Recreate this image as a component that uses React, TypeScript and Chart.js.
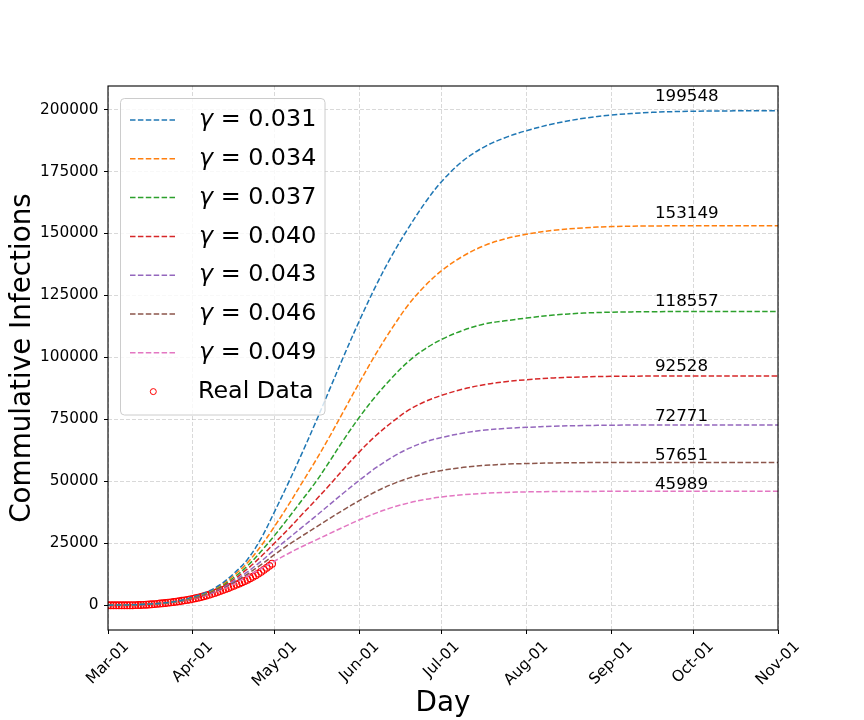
import { useEffect, useRef } from "react"
import { Chart, registerables, type Plugin } from "chart.js"

Chart.register(...registerables)

const FONT = "'DejaVu Sans', sans-serif"

const modelDays = [0, 7, 14, 21, 26, 31, 36, 41, 46, 51, 56, 61, 66, 71, 76, 81, 86, 92, 98, 104, 110, 116, 122, 130, 138, 146, 153, 163, 174, 184, 199, 214, 229, 245]

const gamma031 = [50, 150, 420, 1000, 1800, 3300, 5300, 8300, 12800, 18500, 27000, 38000, 49500, 61500, 74000, 87000, 100000, 115000, 129000, 141500, 152500, 162500, 171000, 179500, 185200, 189000, 191500, 194300, 196500, 197800, 198900, 199330, 199490, 199548]
const gamma034 = [50, 150, 410, 980, 1750, 3150, 5100, 7900, 12000, 17200, 24000, 32000, 40500, 49500, 58500, 68000, 78000, 90000, 101500, 112000, 121500, 129000, 135000, 141000, 145300, 148100, 149700, 151300, 152300, 152800, 153050, 153120, 153140, 153149]
const gamma037 = [50, 150, 400, 960, 1700, 3050, 4900, 7500, 11200, 15900, 21800, 28300, 35300, 42500, 49800, 58000, 66500, 76000, 84500, 92000, 98500, 103500, 107300, 111000, 113600, 114900, 115900, 117100, 117900, 118250, 118460, 118530, 118550, 118557]
const gamma040 = [50, 150, 400, 940, 1650, 2950, 4700, 7150, 10500, 14700, 19700, 25200, 30800, 36700, 42500, 48500, 54800, 62000, 68500, 74000, 78800, 82200, 84700, 87300, 89100, 90300, 91000, 91750, 92150, 92360, 92480, 92515, 92525, 92528]
const gamma043 = [50, 150, 390, 920, 1600, 2850, 4500, 6800, 9800, 13500, 17800, 22500, 27000, 31500, 36000, 40600, 45200, 50500, 55500, 59800, 63300, 65900, 67700, 69500, 70700, 71400, 71800, 72250, 72520, 72660, 72735, 72760, 72768, 72771]
const gamma046 = [50, 150, 380, 900, 1570, 2750, 4300, 6450, 9200, 12600, 16400, 20500, 24400, 28000, 31500, 35000, 38400, 42300, 45900, 48900, 51300, 53100, 54400, 55650, 56450, 56950, 57200, 57420, 57550, 57610, 57638, 57647, 57650, 57651]
const gamma049 = [50, 150, 370, 880, 1530, 2650, 4100, 6150, 8700, 11700, 14800, 17900, 20900, 23700, 26300, 28900, 31500, 34500, 37200, 39500, 41300, 42700, 43700, 44600, 45200, 45550, 45750, 45880, 45940, 45966, 45980, 45986, 45988, 45989]

const seriesValues = [gamma031, gamma034, gamma037, gamma040, gamma043, gamma046, gamma049]
const gammaLabels = ["0.031", "0.034", "0.037", "0.040", "0.043", "0.046", "0.049"]
const seriesColors = ["#1f77b4", "#ff7f0e", "#2ca02c", "#d62728", "#9467bd", "#8c564b", "#e377c2"]

// observed cumulative infections, one per day from Mar-01
const realCases = [0, 0, 0, 0, 1, 2, 5, 10, 20, 35, 60, 90, 130, 180, 240, 310, 390, 480, 580, 690, 800, 920, 1050, 1180, 1320, 1470, 1630, 1800, 1980, 2170, 2380, 2600, 2830, 3080, 3350, 3640, 3950, 4280, 4630, 5000, 5400, 5800, 6200, 6600, 7000, 7450, 7900, 8350, 8800, 9300, 9800, 10300, 10900, 11500, 12100, 12800, 13500, 14300, 15100, 15900, 16800]
const realDays = realCases.map((_, i) => i)

const xTickDays = [0, 31, 61, 92, 122, 153, 184, 214, 245]
const xTickLabels = ["Mar-01", "Apr-01", "May-01", "Jun-01", "Jul-01", "Aug-01", "Sep-01", "Oct-01", "Nov-01"]
const yTicks = [0, 25000, 50000, 75000, 100000, 125000, 150000, 175000, 200000]
const labelDay = 200

const DASH = [5.5, 2.4]

const decorations: Plugin<"line"> = {
  id: "decorations",
  afterDraw(chart) {
    const { ctx, chartArea: a, scales } = chart
    const xs = scales.x
    const ys = scales.y
    ctx.save()

    // axes frame
    ctx.setLineDash([])
    ctx.strokeStyle = "#000"
    ctx.lineWidth = 1.1
    ctx.strokeRect(a.left, a.top, a.right - a.left, a.bottom - a.top)

    // rotated x tick labels, centred on the tick
    ctx.font = `15.3px ${FONT}`
    ctx.fillStyle = "#000"
    ctx.textAlign = "center"
    ctx.textBaseline = "middle"
    xTickDays.forEach((d, i) => {
      const px = xs.getPixelForValue(d)
      const w = ctx.measureText(xTickLabels[i]).width
      const half = ((w + 12) * Math.SQRT1_2) / 2
      ctx.save()
      ctx.translate(px, a.bottom + 10 + half)
      ctx.rotate(-Math.PI / 4)
      ctx.fillText(xTickLabels[i], 0, 0)
      ctx.restore()
    })

    // final value annotations
    ctx.font = `16.7px ${FONT}`
    ctx.textAlign = "left"
    ctx.textBaseline = "alphabetic"
    seriesValues.forEach((vals) => {
      const v = vals[vals.length - 1]
      ctx.fillText(String(v), xs.getPixelForValue(labelDay), ys.getPixelForValue(v * 1.02))
    })

    // legend
    const bx = 120.5
    const by = 98.5
    const bw = 204.5
    const bh = 316.5
    ctx.beginPath()
    ctx.roundRect(bx, by, bw, bh, 4)
    ctx.fillStyle = "rgba(255,255,255,0.8)"
    ctx.fill()
    ctx.strokeStyle = "#cccccc"
    ctx.lineWidth = 1
    ctx.stroke()

    const rowY = (i: number) => 120 + i * 38.8
    const textX = 199
    ctx.textBaseline = "middle"
    gammaLabels.forEach((g, i) => {
      const yy = rowY(i)
      ctx.beginPath()
      ctx.setLineDash(DASH)
      ctx.strokeStyle = seriesColors[i]
      ctx.lineWidth = 1.5
      ctx.moveTo(130, yy)
      ctx.lineTo(176.7, yy)
      ctx.stroke()
      ctx.setLineDash([])
      ctx.fillStyle = "#000"
      ctx.font = `italic 23.8px ${FONT}`
      ctx.fillText("γ", textX, yy)
      const gw = ctx.measureText("γ").width
      ctx.font = `23.8px ${FONT}`
      ctx.fillText(` = ${g}`, textX + gw, yy)
    })
    const ry = rowY(7)
    ctx.beginPath()
    ctx.arc(153.3, ry, 3, 0, Math.PI * 2)
    ctx.strokeStyle = "#ff0000"
    ctx.lineWidth = 1
    ctx.stroke()
    ctx.fillStyle = "#000"
    ctx.font = `23.8px ${FONT}`
    ctx.fillText("Real Data", textX - 1, ry)

    ctx.restore()
  },
}

export default function App() {
  const canvasRef = useRef<HTMLCanvasElement>(null)
  const chartRef = useRef<Chart | null>(null)

  useEffect(() => {
    if (!canvasRef.current) return
    if (chartRef.current) chartRef.current.destroy()

    const gridOpts = {
      color: "rgba(160,160,160,0.5)",
      lineWidth: 0.8,
      drawTicks: true,
      tickLength: 4,
      tickColor: "#000",
      tickWidth: 1,
      tickBorderDash: [],
    }

    chartRef.current = new Chart(canvasRef.current, {
      type: "line",
      data: {
        datasets: [
          ...seriesValues.map((vals, i) => ({
            label: `γ = ${gammaLabels[i]}`,
            data: modelDays.map((d, j) => ({ x: d, y: vals[j] })),
            borderColor: seriesColors[i],
            backgroundColor: seriesColors[i],
            borderWidth: 1.5,
            borderDash: DASH,
            pointRadius: 0,
            fill: false,
            tension: 0.35,
          })),
          {
            label: "Real Data",
            data: realDays.map((d, j) => ({ x: d, y: realCases[j] })),
            showLine: false,
            pointRadius: 3.4,
            pointBorderWidth: 1.1,
            pointBorderColor: "#ff0000",
            pointBackgroundColor: "rgba(0,0,0,0)",
            borderColor: "#ff0000",
            backgroundColor: "rgba(0,0,0,0)",
          },
        ],
      },
      options: {
        responsive: false,
        animation: false,
        layout: { padding: { top: 86, right: 86, left: 0, bottom: 0 } },
        plugins: {
          legend: { display: false },
          tooltip: { enabled: false },
        },
        scales: {
          x: {
            type: "linear",
            min: 0,
            max: 245,
            afterBuildTicks: (s) => {
              s.ticks = xTickDays.map((v) => ({ value: v }))
            },
            afterFit: (s) => {
              s.height = 90
            },
            grid: gridOpts,
            border: { display: false, dash: [4, 2] },
            ticks: { display: false },
            title: {
              display: true,
              text: "Day",
              color: "#000",
              font: { family: FONT, size: 27.8 },
              padding: { top: 0, bottom: 0 },
            },
          },
          y: {
            type: "linear",
            min: -9977,
            max: 209525,
            afterBuildTicks: (s) => {
              s.ticks = yTicks.map((v) => ({ value: v }))
            },
            afterFit: (s) => {
              s.width = 108
            },
            grid: gridOpts,
            border: { display: false, dash: [4, 2] },
            ticks: {
              color: "#000",
              font: { family: FONT, size: 15.3 },
              padding: 5.5,
              callback: (v) => String(v),
            },
            title: {
              display: true,
              text: "Commulative Infections",
              color: "#000",
              font: { family: FONT, size: 27.8 },
              padding: { top: 6, bottom: 0 },
            },
          },
        },
      },
      plugins: [decorations],
    })

    return () => {
      if (chartRef.current) {
        chartRef.current.destroy()
        chartRef.current = null
      }
    }
  }, [])

  return (
    <div style={{ position: "absolute", left: 0, top: 0, width: 864, height: 720, background: "#fff" }}>
      <canvas ref={canvasRef} width={864} height={720} style={{ width: 864, height: 720 }} />
    </div>
  )
}
